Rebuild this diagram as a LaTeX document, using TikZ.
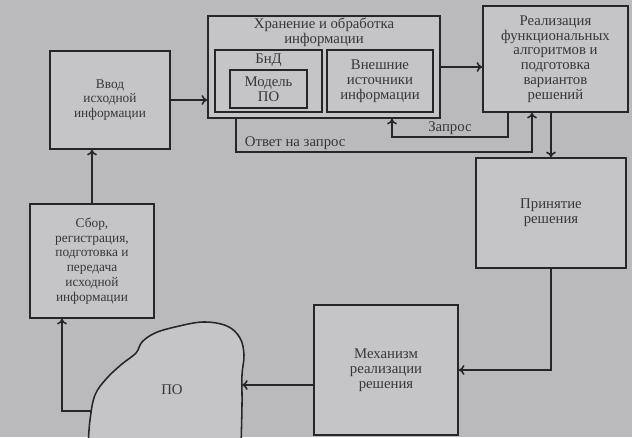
\documentclass[tikz,border=0pt]{standalone}
\usepackage{fontspec}
\setmainfont{Liberation Serif}
\usepackage{tikz}
\usetikzlibrary{positioning, calc, arrows.meta}
\definecolor{paper}{RGB}{186,186,188}
\definecolor{boxfill}{RGB}{197,197,199}
\definecolor{ink}{RGB}{38,38,40}
\definecolor{print}{RGB}{55,55,57}

\begin{document}
\begin{tikzpicture}[x=0.025cm, y=-0.025cm, >={To[length=4pt, width=7pt]},
    blk/.style={draw=ink, fill=boxfill, line width=1.1pt, align=center, text=print,
      font=\fontsize{10.5}{10.5}\selectfont, inner sep=2pt},
    blksmall/.style={blk, font=\fontsize{9.5}{10.5}\selectfont},
    lbl/.style={text=print, font=\fontsize{10.5}{10.5}\selectfont, inner sep=1pt, align=center},
    conn/.style={draw=ink, line width=1.1pt, ->}]
      % page of the photo
      \useasboundingbox (0,0) rectangle (632,437);
      \fill[paper] (0,0) rectangle (632,437);
      \clip (0,0) rectangle (632,437);

      % left column
      \node[blksmall, minimum width=3cm, minimum height=2.45cm] (vvod) at (110,100) {Ввод\\исходной\\информации};
      \node[blksmall, minimum width=3.1cm, minimum height=2.85cm] (sbor) at (92,261) {Сбор,\\регистрация,\\подготовка и\\передача\\исходной\\информации};

      % storage block with its inner boxes
      \node[blk, minimum width=5.8cm, minimum height=2.55cm] (hran) at (324,67) {};
      \node[lbl, below=1pt of hran.north] (hrantitle) {Хранение и обработка\\информации};
      \node[blk, minimum width=2.675cm, minimum height=1.55cm] (bnd) at (268.5,81) {};
      \node[lbl, below=2pt of bnd.north] (bndtitle) {БнД};
      \node[blk, minimum width=1.925cm, minimum height=0.95cm] (model) at (268.5,89) {Модель\\ПО};
      \node[blk, minimum width=2.65cm, minimum height=1.55cm] (vnesh) at (380,81) {Внешние\\источники\\информации};

      % right column
      \node[blk, minimum width=3.625cm, minimum height=2.65cm] (real) at (555.5,59) {Реализация\\функциональных\\алгоритмов и\\подготовка\\вариантов\\решений};
      \node[blk, minimum width=3.75cm, minimum height=2.75cm] (prin) at (551,213) {Принятие\\решения};
      \node[blk, minimum width=3.6cm, minimum height=3.25cm] (mech) at (386,370) {Механизм\\реализации\\решения};

      % the object (ПО)
      \draw[ink, line width=1.1pt, fill=boxfill] plot[smooth, tension=0.6] coordinates {(88,447) (90,420) (95,395) (107,378) (122,364) (136,353) (142,342) (155,333) (175,327) (203,322) (227,326) (240,338) (244,355) (242,375) (242,405) (241,447)};
      \node[lbl] (po) at (172,390) {ПО};
      \coordinate (poleft) at (91,411);
      \coordinate (poright) at (242,385);

      % main loop
      \draw[conn] (poleft) -- ++(-29,0) coordinate (pocorner) -- (pocorner |- sbor.south);
      \draw[conn] (sbor.north) -- (sbor.north |- vvod.south);
      \draw[conn] (vvod.east) -- (vvod.east -| hran.west);
      \draw[conn] (hran.east) -- (hran.east -| real.west);
      \draw[conn] (real.south -| prin.north) -- (prin.north);
      \draw[conn] (prin.south) |- (mech.east);
      \draw[conn] (mech.west |- poright) -- (poright);

      % request and answer
      \coordinate (zaprA) at (508,137);
      \coordinate (zaprB) at (392,137);
      \draw[conn] (real.south -| zaprA) -- (zaprA) -- node[lbl, above]{Запрос} (zaprB) -- (zaprB |- hran.south);
      \coordinate (otvA) at (236,152);
      \coordinate (otvB) at (532,152);
      \draw[conn] (hran.south -| otvA) -- (otvA) -- node[lbl, above, pos=0.2]{Ответ на запрос} (otvB) -- (otvB |- real.south);
\end{tikzpicture}
\end{document}
